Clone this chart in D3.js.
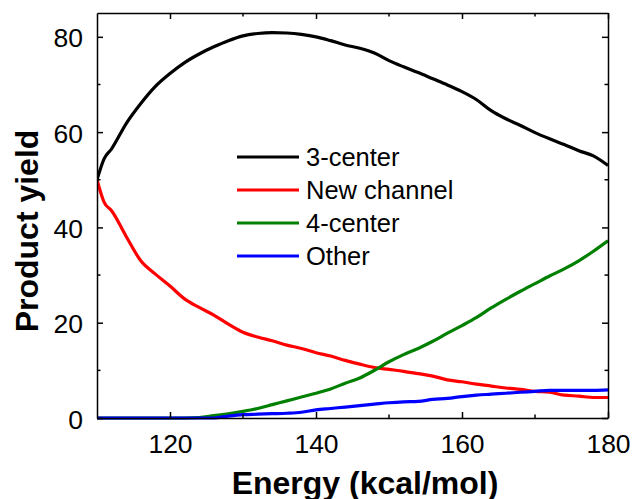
<!DOCTYPE html>
<html>
<head>
<meta charset="utf-8">
<script src="https://cdn.jsdelivr.net/npm/d3@7"></script>
<style>
  body { margin: 0; background: #fff; }
  text { font-family: "Liberation Sans", Arial, sans-serif; fill: #000; }
</style>
</head>
<body>
<div id="chart"></div>
<script>
// energies (kcal/mol)
var energy = [110, 111, 112, 114, 116, 118, 120, 122, 124, 126, 128, 130, 132, 134, 136, 138, 140,
  142, 144, 146, 148, 150, 152, 154, 156, 158, 160, 162, 164, 166, 168, 170, 172, 174, 176, 178, 180];

var threeCenter = [50, 54.5, 56.5, 61.8, 66, 69.6, 72.3, 74.6, 76.4, 77.9, 79.2, 80.2, 80.7, 80.9, 80.8, 80.5, 80.0,
  79.2, 78.3, 77.6, 76.6, 75.0, 73.7, 72.5, 71.2, 69.9, 68.5, 66.8, 64.5, 62.8, 61.4, 59.9, 58.6, 57.4, 56.1, 55.0, 53.0];

var newChannel = [50, 45.2, 43.5, 38.1, 33.0, 30.2, 27.7, 25.0, 23.2, 21.6, 19.7, 18.0, 17.0, 16.2, 15.3, 14.6, 13.7,
  13.0, 12.1, 11.3, 10.6, 10.2, 9.8, 9.3, 8.8, 8.0, 7.6, 7.1, 6.7, 6.3, 6.0, 5.6, 5.4, 4.8, 4.6, 4.3, 4.3];

var fourCenter = [0, 0, 0, 0, 0, 0, 0, 0, 0.1, 0.5, 0.9, 1.4, 2.0, 2.8, 3.6, 4.4, 5.2,
  6.1, 7.3, 8.4, 10.0, 11.8, 13.3, 14.6, 16.1, 17.8, 19.4, 21.1, 23.1, 24.9, 26.6, 28.2, 29.8, 31.3, 33.0, 35.0, 37.2];

var other = [0, 0, 0, 0, 0, 0, 0, 0, 0, 0, 0.4, 0.7, 0.8, 0.9, 1.0, 1.2, 1.7,
  2.0, 2.3, 2.6, 2.9, 3.2, 3.4, 3.5, 3.9, 4.1, 4.5, 4.8, 5.0, 5.2, 5.4, 5.6, 5.8, 5.8, 5.8, 5.8, 5.9];

var seriesNames = ["3-center", "New channel", "4-center", "Other"];
var seriesColors = ["#000000", "#ff0000", "#008000", "#0000ff"];
var seriesValues = [threeCenter, newChannel, fourCenter, other];

var xMajor = [120, 140, 160, 180];
var xMinor = [130, 150, 170];
var yMajor = [0, 20, 40, 60, 80];
var yMinor = [10, 30, 50, 70];

var width = 632, height = 499;
var margin = { top: 13, right: 24, bottom: 81, left: 97 };
var w = width - margin.left - margin.right;
var h = height - margin.top - margin.bottom;

var svg = d3.select("#chart").append("svg")
  .attr("width", width)
  .attr("height", height);

var g = svg.append("g")
  .attr("transform", "translate(" + margin.left + "," + margin.top + ")");

var x = d3.scaleLinear().domain([110, 180]).range([0, w]);
var y = d3.scaleLinear().domain([0, 85]).range([h, 0]);

g.append("clipPath").attr("id", "clip")
  .append("rect").attr("x", 0).attr("y", -2).attr("width", w).attr("height", h + 4);

var line = d3.line()
  .x(function(d) { return x(d[0]); })
  .y(function(d) { return y(d[1]); })
  .curve(d3.curveMonotoneX);

var lines = g.append("g").attr("clip-path", "url(#clip)");
seriesValues.forEach(function(vals, i) {
  lines.append("path")
    .datum(energy.map(function(e, j) { return [e, vals[j]]; }))
    .attr("fill", "none")
    .attr("stroke", seriesColors[i])
    .attr("stroke-width", 3.2)
    .attr("stroke-linejoin", "round")
    .attr("d", line);
});

// frame with inward ticks
function tickAxis(axis, major, minor, sel) {
  sel.call(axis.tickValues(major).tickSizeInner(-6).tickSizeOuter(0));
  sel.selectAll(".tick line").attr("stroke-width", 1.5);
  sel.select(".domain").attr("stroke-width", 1.5);
  sel.selectAll(".minor").data(minor).enter().append("line")
    .attr("class", "minor")
    .attr("stroke", "#000").attr("stroke-width", 1.5);
}

var fs = 26.5;

var axBottom = g.append("g").attr("transform", "translate(0," + h + ")");
tickAxis(d3.axisBottom(x), xMajor, xMinor, axBottom);
axBottom.selectAll(".minor").attr("x1", function(d) { return x(d); }).attr("x2", function(d) { return x(d); })
  .attr("y1", 0).attr("y2", -3.5);
axBottom.selectAll(".tick text").attr("font-size", fs).attr("font-family", "Liberation Sans, Arial, sans-serif")
  .attr("y", 16).attr("dy", "0.71em");

var axTop = g.append("g");
tickAxis(d3.axisTop(x), xMajor, xMinor, axTop);
axTop.selectAll(".minor").attr("x1", function(d) { return x(d); }).attr("x2", function(d) { return x(d); })
  .attr("y1", 0).attr("y2", 3.5);
axTop.selectAll(".tick text").remove();

var axLeft = g.append("g");
tickAxis(d3.axisLeft(y), yMajor, yMinor, axLeft);
axLeft.selectAll(".minor").attr("y1", function(d) { return y(d); }).attr("y2", function(d) { return y(d); })
  .attr("x1", 0).attr("x2", 3.5);
axLeft.selectAll(".tick text").attr("font-size", fs).attr("font-family", "Liberation Sans, Arial, sans-serif")
  .attr("x", -14).attr("dy", "0.38em");

var axRight = g.append("g").attr("transform", "translate(" + w + ",0)");
tickAxis(d3.axisRight(y), yMajor, yMinor, axRight);
axRight.selectAll(".minor").attr("y1", function(d) { return y(d); }).attr("y2", function(d) { return y(d); })
  .attr("x1", 0).attr("x2", -3.5);
axRight.selectAll(".tick text").remove();

// axis titles
svg.append("text")
  .attr("x", 365).attr("y", 494)
  .attr("text-anchor", "middle")
  .attr("font-size", 32).attr("font-weight", "bold")
  .text("Energy (kcal/mol)");

svg.append("text")
  .attr("transform", "translate(38,231) rotate(-90)")
  .attr("text-anchor", "middle")
  .attr("font-size", 32).attr("font-weight", "bold")
  .text("Product yield");

// legend
var legend = svg.append("g").attr("transform", "translate(237,157)");
seriesNames.forEach(function(name, i) {
  var row = legend.append("g").attr("transform", "translate(0," + i * 33 + ")");
  row.append("line").attr("x1", 0).attr("x2", 62).attr("y1", 0).attr("y2", 0)
    .attr("stroke", seriesColors[i]).attr("stroke-width", 3.2);
  row.append("text").attr("x", 69).attr("dy", "0.36em")
    .attr("font-size", 25.5).text(name);
});
</script>
</body>
</html>
